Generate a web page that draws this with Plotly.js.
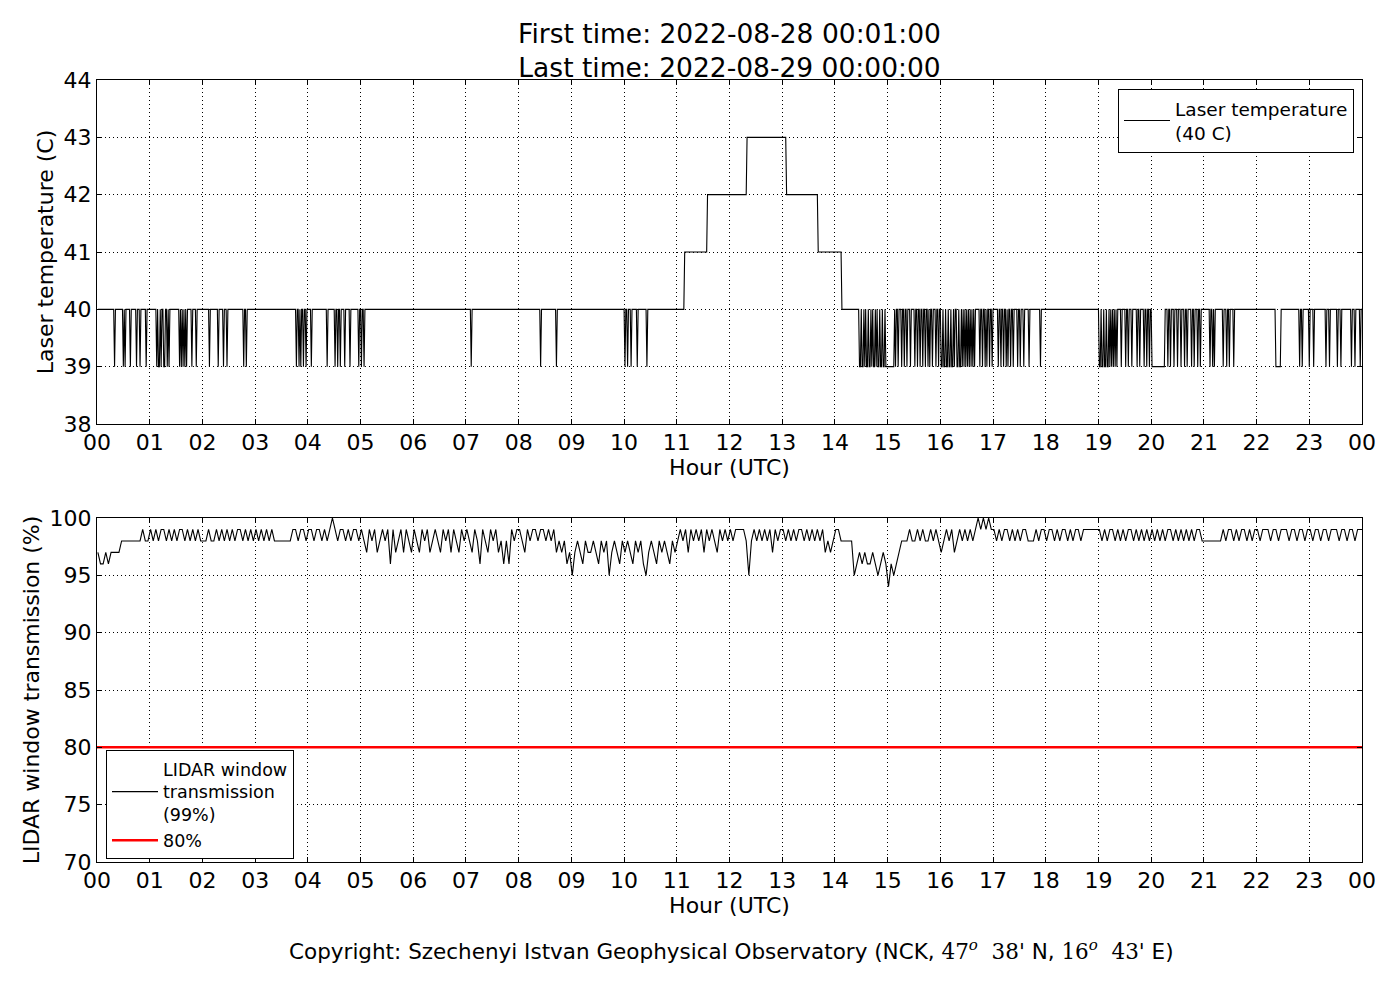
<!DOCTYPE html>
<html>
<head>
<meta charset="utf-8">
<script src="https://cdn.plot.ly/plotly-3.0.1.min.js"></script>
<style>html,body{margin:0;padding:0;background:#fff;}#chart{width:1400px;height:1000px;}</style>
</head>
<body>
<div id="chart"></div>
<script>
// ---------- data ----------
const hourTickVals = [0,1,2,3,4,5,6,7,8,9,10,11,12,13,14,15,16,17,18,19,20,21,22,23,24];
const hourTickText = ['00','01','02','03','04','05','06','07','08','09','10','11','12','13','14','15','16','17','18','19','20','21','22','23','00'];

// Laser temperature: base level steps (start hour, level)
const tempLevelStart = [0, 11.14, 11.57, 12.33, 13.07, 13.68, 14.12];
const tempLevelValue = [40, 41, 42, 43, 42, 41, 40];
// one-minute drops to 39 C (hour of the drop)
const tempDips = [
  0.34,0.50,0.54,0.63,0.75,0.82,0.93,
  1.13,1.16,1.19,1.22,1.26,1.29,1.33,1.37,1.57,1.60,1.64,1.67,1.70,1.80,1.88,
  2.13,2.30,2.40,2.46,2.78,2.83,
  3.79,3.83,3.87,3.92,3.97,4.06,4.36,4.51,4.56,4.61,4.70,4.80,4.96,5.02,5.07,
  7.10,8.42,8.71,
  10.02,10.06,10.14,10.25,10.44,
  14.46,14.48,14.51,14.53,14.57,14.60,14.62,14.65,14.67,14.70,14.73,14.75,14.79,14.81,14.84,14.87,14.89,14.92,14.94,14.97,14.99,
  15.15,15.20,15.26,15.31,15.37,15.44,15.52,15.56,15.61,15.66,15.71,15.76,15.80,15.85,15.92,15.97,
  16.01,16.03,16.06,16.08,16.11,16.13,16.16,16.18,16.21,16.24,16.27,16.31,16.34,16.37,16.39,16.42,16.45,16.48,16.52,16.55,16.59,16.62,16.65,16.75,16.80,16.85,16.89,16.94,16.99,
  17.10,17.15,17.20,17.25,17.29,17.34,17.39,17.46,17.51,17.58,17.68,17.90,
  19.02,19.04,19.06,19.09,19.12,19.14,19.17,19.19,19.22,19.25,19.28,19.31,19.35,19.44,19.51,19.57,19.63,19.73,19.79,19.86,19.92,19.97,
  20.31,20.37,20.44,20.50,20.56,20.63,20.69,20.76,20.82,20.88,20.93,
  21.11,21.16,21.20,21.37,21.43,21.49,21.56,
  22.81,22.87,23.00,23.09,
  23.32,23.38,23.54,23.60,23.80,23.86,23.96
];
// longer periods at 39 C (start hour, end hour)
const tempLowStart = [15.00, 20.02, 22.36];
const tempLowEnd   = [15.12, 20.25, 22.45];

// LIDAR window transmission (%), 3-minute readings, 20 per hour
const trans = [
  97,96,96,97,96,97,97,97,97,98,98,98,98,98,98,98,98,99,98,98,
  99,98,99,98,99,99,98,99,98,99,98,99,99,98,99,98,99,98,99,98,
  98,98,99,98,98,99,98,99,98,99,98,99,98,99,99,98,99,98,99,98,
  99,98,99,98,99,98,99,98,98,98,98,98,98,98,99,99,98,99,99,98,
  99,99,98,99,99,98,99,98,99,100,99,98,99,99,98,99,98,99,99,98,
  99,98,97,99,98,99,97,98,99,98,99,96,99,97,98,99,97,99,98,97,
  99,98,97,99,98,99,97,98,99,98,97,99,98,99,97,99,98,97,99,98,
  99,98,97,99,98,96,99,98,97,99,98,99,97,98,96,98,96,99,98,99,
  99,98,97,99,98,99,99,98,99,99,98,99,98,99,97,98,97,98,96,97,
  95,97,98,97,96,98,97,97,98,97,96,98,97,98,95,97,98,97,96,98,
  97,98,97,96,98,97,98,96,95,97,98,97,96,98,97,98,97,96,98,97,
  98,99,98,99,97,99,98,99,98,99,97,99,98,99,98,97,99,98,99,98,
  99,98,99,99,99,99,98,95,98,99,98,99,98,99,98,99,97,99,98,99,
  99,98,99,98,99,98,99,99,98,99,98,99,98,99,98,99,97,98,97,98,
  99,99,98,98,98,98,98,95,96,97,96,97,96,96,97,96,95,96,97,96,
  94,96,95,96,97,98,98,98,99,98,98,99,98,99,98,98,99,98,99,98,
  97,98,99,98,99,97,98,99,98,99,98,99,98,99,100,99,100,99,100,99,
  99,98,99,98,99,99,98,99,98,99,98,99,99,98,98,98,99,98,99,99,
  98,99,99,98,99,98,99,99,98,99,98,99,99,98,99,99,99,99,99,99,
  99,98,99,98,99,99,98,99,98,99,98,99,99,98,99,98,99,98,99,98,
  99,98,99,98,99,98,99,99,98,99,98,99,98,99,98,99,98,99,99,98,
  98,98,98,98,98,98,98,99,98,99,99,98,99,98,99,99,98,99,98,99,
  99,98,99,99,99,98,99,99,98,99,99,99,98,99,99,98,99,99,98,99,
  99,98,99,99,98,99,99,98,99,99,99,98,99,99,98,99,99,98,99,99,
  99
];
const thresholdValue = 80;

// ---------- build the minute series for the temperature ----------
const dipMinutes = new Set(tempDips.map(h => Math.round(h * 60)));
tempLowStart.forEach((s, i) => {
  for (let m = Math.round(s * 60); m <= Math.round(tempLowEnd[i] * 60); m++) dipMinutes.add(m);
});
const tempX = [], tempY = [];
for (let m = 1; m <= 1440; m++) {
  const h = m / 60;
  let lvl = tempLevelValue[0];
  for (let k = 0; k < tempLevelStart.length; k++) if (h >= tempLevelStart[k]) lvl = tempLevelValue[k];
  tempX.push(h);
  tempY.push(dipMinutes.has(m) ? 39 : lvl);
}
const transX = trans.map((v, i) => 1/60 + i * 3 / 60);

// ---------- layout ----------
const W = 1400, H = 1000;
const L = 97, R = 1362, T = 80, B = 862;
const pw = R - L, ph = B - T;
const py = px => (B - px) / ph;   // pixel y -> paper y
const pxx = px => (px - L) / pw;  // pixel x -> paper x

const gridDash = '1px,3px';
const baseAxis = {
  showline: true, linecolor: 'black', linewidth: 1, mirror: 'allticks',
  ticks: 'inside', ticklen: 5, tickcolor: 'black', tickwidth: 1,
  showgrid: true, gridcolor: 'black', gridwidth: 1, griddash: gridDash,
  zeroline: false, tickfont: {size: 22, color: 'black'}
};

const traces = [
  {x: tempX, y: tempY, type: 'scatter', mode: 'lines', xaxis: 'x', yaxis: 'y',
   line: {color: 'black', width: 1.1}, name: 'Laser temperature<br>(40 C)', legend: 'legend'},
  {x: transX, y: trans, type: 'scatter', mode: 'lines', xaxis: 'x2', yaxis: 'y2',
   line: {color: 'black', width: 1.1}, name: 'LIDAR window<br>transmission<br>(99%)', legend: 'legend2'},
  {x: [0, 24], y: [thresholdValue, thresholdValue], type: 'scatter', mode: 'lines', xaxis: 'x2', yaxis: 'y2',
   line: {color: '#ff0000', width: 2.5}, name: '80%', legend: 'legend2'}
];

const layout = {
  width: W, height: H,
  margin: {l: L, r: W - R, t: T, b: H - B, pad: 0},
  paper_bgcolor: 'white', plot_bgcolor: 'white',
  font: {family: 'DejaVu Sans', color: 'black', size: 22},
  showlegend: true,
  title: {text: 'First time: 2022-08-28 00:01:00<br>Last time: 2022-08-29 00:00:00',
          font: {size: 26.5, color: 'black'}, x: 0.5, xanchor: 'center',
          y: 1 - 43 / H, yanchor: 'middle', xref: 'paper', yref: 'container'},
  xaxis: Object.assign({}, baseAxis, {domain: [0, 1], range: [0, 24], anchor: 'y',
          tickmode: 'array', tickvals: hourTickVals, ticktext: hourTickText, ticklabelstandoff: -1,
          title: {text: 'Hour (UTC)', font: {size: 22}, standoff: 0}}),
  yaxis: Object.assign({}, baseAxis, {domain: [py(424), 1], range: [38, 44], dtick: 1, anchor: 'x',
          title: {text: 'Laser temperature (C)', font: {size: 22}, standoff: 3}}),
  xaxis2: Object.assign({}, baseAxis, {domain: [0, 1], range: [0, 24], anchor: 'y2',
          tickmode: 'array', tickvals: hourTickVals, ticktext: hourTickText, ticklabelstandoff: -1,
          title: {text: 'Hour (UTC)', font: {size: 22}, standoff: 0}}),
  yaxis2: Object.assign({}, baseAxis, {domain: [0, py(518)], range: [70, 100], dtick: 5, anchor: 'x2',
          title: {text: 'LIDAR window transmission (%)', font: {size: 22}, standoff: 3}}),
  legend: {x: pxx(1354), xanchor: 'right', y: py(89), yanchor: 'top',
           bgcolor: 'white', bordercolor: 'black', borderwidth: 1, itemwidth: 46,
           font: {size: 18.5, color: 'black'}, tracegroupgap: 0},
  legend2: {x: pxx(106), xanchor: 'left', y: py(859), yanchor: 'bottom',
            bgcolor: 'white', bordercolor: 'black', borderwidth: 1, itemwidth: 46,
            font: {size: 17.5, color: 'black'}, tracegroupgap: 0},
  annotations: [
    {xref: 'paper', yref: 'paper', x: pxx(731), y: py(950), xanchor: 'center', yanchor: 'middle',
     showarrow: false, font: {size: 21.5, color: 'black'},
     text: "Copyright: Szechenyi Istvan Geophysical Observatory (NCK, <span style=\"font-family:'DejaVu Serif'\">47<sup><i>o</i></sup>  38'</span> N, <span style=\"font-family:'DejaVu Serif'\">16<sup><i>o</i></sup>  43'</span> E)"}
  ]
};

Plotly.newPlot('chart', traces, layout, {displayModeBar: false, staticPlot: true});
</script>
</body>
</html>
